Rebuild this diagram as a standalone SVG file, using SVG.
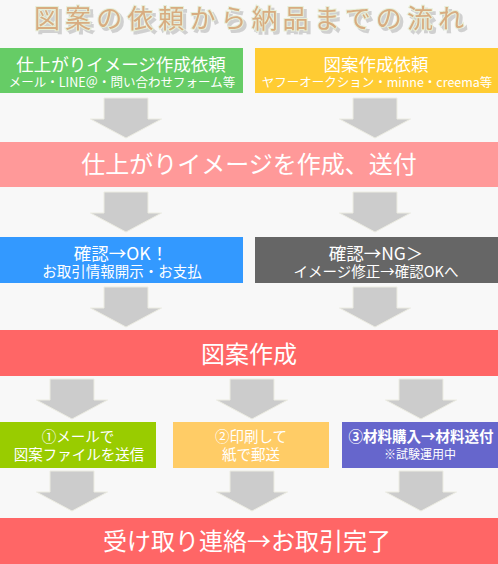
<svg xmlns="http://www.w3.org/2000/svg" width="498" height="564" viewBox="0 0 498 564">
<style>
text{font-family:"Noto Sans CJK JP","Noto Sans",sans-serif;fill:#ffffff;text-anchor:middle}
.arrow{fill:#cccccc;stroke:#ecece2;stroke-width:1}
.t18{font-size:17.5px}
.t15{font-size:14.5px}
.t13{font-size:12.5px}
.t24{font-size:24px}
.title{font-size:26px;fill:#d8ac80;stroke:#e6eed8;stroke-width:2;paint-order:stroke}
</style>
<defs>
<polygon id="arr" points="-22,0 22,0 22,21 35.5,21 0,40 -35.5,21 -22,21"/>
<filter id="shadow" x="-5%" y="-30%" width="110%" height="170%">
<feDropShadow dx="3" dy="3" stdDeviation="0.3" flood-color="#cccccc" flood-opacity="0.9"/>
</filter>
</defs>
<rect width="498" height="564" fill="#f8f8f8"/>
<g id="title">
<text x="249" y="28" class="title" filter="url(#shadow)" textLength="430" lengthAdjust="spacing">図案の依頼から納品までの流れ</text>
</g>
<g id="connectors">
<use href="#arr" class="arrow" x="126" y="98"/>
<use href="#arr" class="arrow" x="375" y="98"/>
<use href="#arr" class="arrow" x="126" y="192"/>
<use href="#arr" class="arrow" x="375" y="192"/>
<use href="#arr" class="arrow" x="126" y="287"/>
<use href="#arr" class="arrow" x="375" y="287"/>
<use href="#arr" class="arrow" x="72" y="379"/>
<use href="#arr" class="arrow" x="252" y="379"/>
<use href="#arr" class="arrow" x="421" y="379"/>
<use href="#arr" class="arrow" x="72" y="471"/>
<use href="#arr" class="arrow" x="252" y="471"/>
<use href="#arr" class="arrow" x="421" y="471"/>
</g>
<g id="request-image">
<rect x="0" y="48" width="243" height="45" fill="#66cc66"/>
<text x="121" y="71" class="t18">仕上がりイメージ作成依頼</text>
<text x="122" y="87" class="t13">メール・LINE＠・問い合わせフォーム等</text>
</g>
<g id="request-design">
<rect x="255" y="48" width="243" height="45" fill="#ffcc33"/>
<text x="376" y="71" class="t18">図案作成依頼</text>
<text x="377" y="87" class="t13">ヤフーオークション・minne・creema等</text>
</g>
<g id="create-image">
<rect x="0" y="142" width="498" height="45" fill="#ff9999"/>
<text x="249" y="173" class="t24">仕上がりイメージを作成、送付</text>
</g>
<g id="confirm-ok">
<rect x="0" y="237" width="243" height="46" fill="#3399ff"/>
<text x="121" y="260" class="t18">確認→OK！</text>
<text x="122" y="277" class="t15">お取引情報開示・お支払</text>
</g>
<g id="confirm-ng">
<rect x="255" y="237" width="243" height="46" fill="#666666"/>
<text x="376" y="260" class="t18">確認→NG＞</text>
<text x="376" y="277" class="t15">イメージ修正→確認OKへ</text>
</g>
<g id="design">
<rect x="0" y="330" width="498" height="46" fill="#ff6666"/>
<text x="249" y="363" class="t24">図案作成</text>
</g>
<g id="send-mail">
<rect x="0" y="422" width="156" height="46" fill="#99cc00"/>
<text x="78" y="442" class="t15">①メールで</text>
<text x="79" y="460" class="t15">図案ファイルを送信</text>
</g>
<g id="print-mail">
<rect x="173" y="422" width="156" height="46" fill="#ffcc66"/>
<text x="251" y="442" class="t15">②印刷して</text>
<text x="251" y="460" class="t15">紙で郵送</text>
</g>
<g id="materials">
<rect x="342" y="422" width="156" height="46" fill="#6666cc"/>
<text x="421" y="442" class="t15" style="font-weight:bold">③材料購入→材料送付</text>
<text x="420" y="459" style="font-size:12px">※試験運用中</text>
</g>
<g id="complete">
<rect x="0" y="518" width="498" height="46" fill="#ff6666"/>
<text x="247" y="550" class="t24">受け取り連絡→お取引完了</text>
</g>
</svg>
